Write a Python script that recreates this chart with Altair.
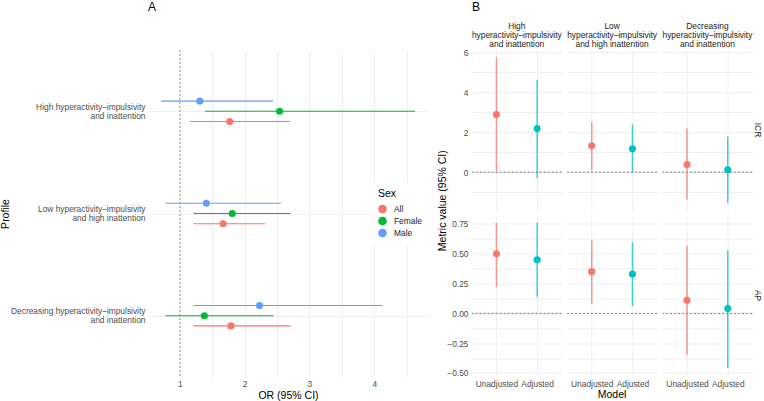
import altair as alt
import pandas as pd

FONT = "Liberation Sans"
GRID = "#EBEBEB"
TICK_TEXT = "#4D4D4D"

# ---------------- Panel A: odds ratios per profile, by sex ----------------
sexes = ["All", "Female", "Male"]
sex_colors = ["#F8766D", "#00BA38", "#619CFF"]

or_profile = [1, 1, 1, 2, 2, 2, 3, 3, 3]
or_sex = sexes * 3
or_est = [1.77, 2.54, 1.31, 1.67, 1.81, 1.41, 1.79, 1.38, 2.23]
or_low = [1.16, 1.39, 0.71, 1.21, 1.21, 0.78, 1.21, 0.78, 1.21]
or_high = [2.70, 4.63, 2.44, 2.32, 2.71, 2.56, 2.71, 2.45, 4.13]
or_null = [1]
or_ticks = [1, 1.5, 2, 2.5, 3, 3.5, 4, 4.5]

df_or = pd.DataFrame({"profile": or_profile, "sex": or_sex,
                      "est": or_est, "lo": or_low, "hi": or_high})
df_null = pd.DataFrame({"v": or_null})

profile_label_expr = (
    "[['High hyperactivity\u2013impulsivity', 'and inattention'],"
    " ['Low hyperactivity\u2013impulsivity', 'and high inattention'],"
    " ['Decreasing hyperactivity\u2013impulsivity', 'and inattention']][datum.value - 1]"
)

or_scale = alt.Scale(domain=[0.51, 4.83], nice=False, zero=False)
or_axis = alt.Axis(values=or_ticks, labelPadding=2, titlePadding=3,
                   labelExpr="datum.value % 1 === 0 ? format(datum.value, 'd') : ''")
y_or = alt.Y("pos:Q", title="Profile",
             scale=alt.Scale(domain=[0.4, 3.6], nice=False, zero=False, reverse=True),
             axis=alt.Axis(values=[1, 2, 3], labelExpr=profile_label_expr,
                           labelLineHeight=9, labelPadding=3, labelOffset=-5,
                           titlePadding=0))
color_sex = alt.Color("sex:N", title="Sex",
                      scale=alt.Scale(domain=sexes, range=sex_colors),
                      legend=alt.Legend(orient="none", legendX=224, legendY=133,
                                        fillColor="white", padding=6,
                                        symbolType="circle", symbolSize=50,
                                        symbolOpacity=1, labelOffset=7,
                                        rowPadding=-3.5, titlePadding=5,
                                        labelFontSize=8.4, titleFontSize=10.5,
                                        labelColor="#1A1A1A", titleColor="black",
                                        titleFontWeight="normal",
                                        labelFont=FONT, titleFont=FONT))

base_or = alt.Chart(df_or).transform_calculate(
    pos="datum.profile + (datum.sex === 'All' ? 0.1 : datum.sex === 'Male' ? -0.1 : 0)"
)
null_line = alt.Chart(df_null).mark_rule(
    strokeDash=[2, 2], color="#7F7F7F", strokeWidth=0.8
).encode(x=alt.X("v:Q", scale=or_scale, axis=or_axis, title="OR (95% CI)"))
or_bars = base_or.mark_rule(strokeWidth=1.1).encode(
    x=alt.X("lo:Q", scale=or_scale, axis=or_axis, title="OR (95% CI)"),
    x2="hi:Q", y=y_or, color=color_sex
)
or_points = base_or.mark_circle(size=50, opacity=1).encode(
    x=alt.X("est:Q", scale=or_scale, axis=or_axis, title="OR (95% CI)"),
    y=y_or, color=color_sex
)

panel_a = alt.layer(null_line, or_bars, or_points).properties(
    width=280, height=327,
    title=alt.TitleParams("A", anchor="start", fontSize=12, fontWeight="normal",
                          font=FONT, offset=36, frame="group"),
)

# ---------------- Panel B: interaction metrics per profile ----------------
strip_labels = [
    "High\nhyperactivity\u2013impulsivity\nand inattention",
    "Low\nhyperactivity\u2013impulsivity\nand high inattention",
    "Decreasing\nhyperactivity\u2013impulsivity\nand inattention",
]
models = ["Unadjusted", "Adjusted"]
model_colors = ["#F8766D", "#00BFC4"]

cell_profile = [strip_labels[0]] * 2 + [strip_labels[1]] * 2 + [strip_labels[2]] * 2
cell_model = models * 3

icr_est = [2.88, 2.18, 1.32, 1.17, 0.38, 0.12]
icr_low = [0.05, -0.30, 0.08, -0.01, -1.37, -1.53]
icr_high = [5.75, 4.62, 2.52, 2.38, 2.18, 1.78]
icr_ticks = [-1, 0, 1, 2, 3, 4, 5, 6]

ap_est = [0.50, 0.45, 0.35, 0.33, 0.11, 0.04]
ap_low = [0.22, 0.14, 0.08, 0.06, -0.35, -0.46]
ap_high = [0.76, 0.76, 0.61, 0.60, 0.57, 0.53]
ap_ticks = [-0.5, -0.375, -0.25, -0.125, 0, 0.125, 0.25, 0.375, 0.5, 0.625, 0.75]

df_icr = pd.DataFrame({"metric": "ICR", "profile": cell_profile, "model": cell_model,
                       "est": icr_est, "lo": icr_low, "hi": icr_high})
df_ap = pd.DataFrame({"metric": "AP", "profile": cell_profile, "model": cell_model,
                      "est": ap_est, "lo": ap_low, "hi": ap_high})


def metric_panel(df, domain, ticks, label_expr, top):
    y_scale = alt.Scale(domain=domain, nice=False, zero=False)
    y_axis = alt.Axis(values=ticks, labelExpr=label_expr, labelPadding=3)
    x_enc = alt.X("model:N", sort=models, title=None,
                  scale=alt.Scale(type="point", padding=0.6),
                  axis=alt.Axis(labels=not top, labelAngle=0, labelPadding=4))
    col = alt.Color("model:N", scale=alt.Scale(domain=models, range=model_colors),
                    legend=None)
    zero = alt.Chart().transform_filter("datum.model === 'Unadjusted'").mark_rule(
        strokeDash=[2, 2], color="#555555", strokeWidth=0.8
    ).encode(y=alt.datum(0, scale=y_scale, axis=y_axis, title=None))
    bars = alt.Chart().mark_rule(strokeWidth=1.5, opacity=0.75).encode(
        x=x_enc, y=alt.Y("lo:Q", scale=y_scale, axis=y_axis, title=None),
        y2="hi:Q", color=col)
    pts = alt.Chart().mark_circle(size=50, opacity=1).encode(
        x=x_enc, y=alt.Y("est:Q", scale=y_scale, axis=y_axis, title=None), color=col)
    if top:
        col_header = alt.Header(title=None, labelExpr="split(datum.label, '\\n')",
                                labelFontSize=8.4, labelColor="#1A1A1A",
                                labelLineHeight=8.6, labelPadding=2, labelFont=FONT)
    else:
        col_header = alt.Header(title="Model", titleOrient="bottom", labels=False,
                                titleFontSize=10.5, titleFontWeight="normal",
                                titleColor="black", titleFont=FONT, titlePadding=-9)
    row_header = alt.Header(title=None, labelOrient="right", labelAngle=90,
                            labelFontSize=8.4, labelColor="#1A1A1A",
                            labelPadding=1, labelFont=FONT)
    layered = alt.layer(zero, bars, pts).properties(width=89.6, height=160)
    chart = layered.facet(
        data=df,
        column=alt.Column("profile:N", sort=strip_labels, header=col_header),
        row=alt.Row("metric:N", header=row_header),
        spacing={"column": 4.3, "row": 0},
    )
    if top:
        chart = chart.properties(
            title=alt.TitleParams("B", anchor="start", fontSize=12, fontWeight="normal",
                                  font=FONT, offset=8, frame="group"))
    return chart


ap_label_expr = ("datum.value % 0.25 === 0 ? "
                 "replace(format(datum.value, '.2f'), '-', '\u2212') : ''")
icr_panel = metric_panel(df_icr, [-1.894, 6.114], icr_ticks,
                         "datum.value % 2 === 0 ? format(datum.value, 'd') : ''", True)
ap_panel = metric_panel(df_ap, [-0.521, 0.821], ap_ticks, ap_label_expr, False)

panel_b = alt.vconcat(icr_panel, ap_panel, spacing=5.5).properties(
    title=alt.TitleParams("Metric value (95% CI)", orient="left", anchor="middle",
                          fontSize=10.5, fontWeight="normal", font=FONT,
                          offset=4, dy=6)
)

chart = alt.hconcat(panel_a, panel_b, spacing=10).resolve_scale(
    color="independent"
).properties(
    padding={"left": 0, "top": 0, "right": 0, "bottom": 0}
).configure_view(stroke=None).configure_axis(
    domain=False, ticks=False, grid=True, gridColor=GRID, gridWidth=0.8,
    labelFont=FONT, titleFont=FONT, labelFontSize=8.4, titleFontSize=10.5,
    labelColor=TICK_TEXT, titleColor="black", titleFontWeight="normal",
).configure_title(color="black")

chart.save("out.html", embed_options={"renderer": "svg", "actions": False})
